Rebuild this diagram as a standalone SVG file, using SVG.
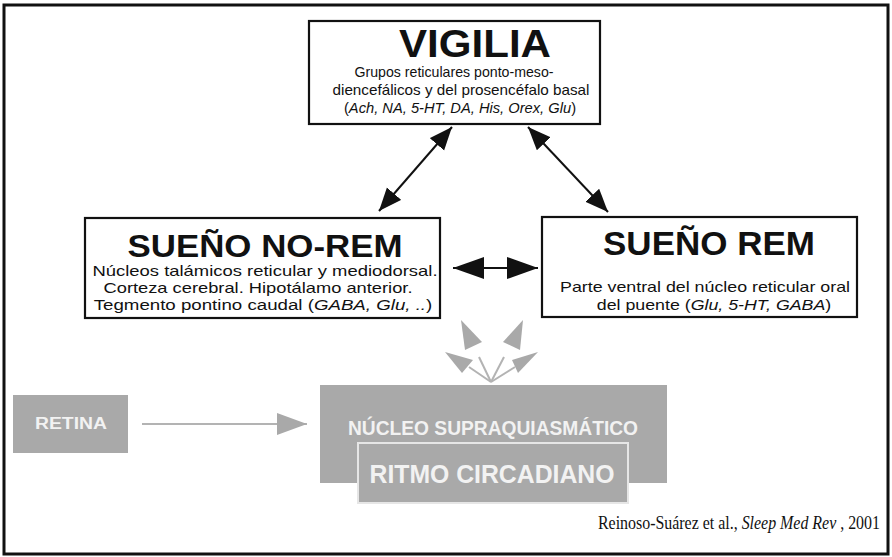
<svg xmlns="http://www.w3.org/2000/svg" width="892" height="557" viewBox="0 0 892 557">
<defs>
<style>
.box{fill:#fff;stroke:#111;stroke-width:2.2}
.t{font-family:"Liberation Sans",Arial,sans-serif;fill:#111;text-anchor:middle}
.b{font-weight:bold}
.i{font-style:italic}
.g{fill:#a9a9a9}
.gt{font-family:"Liberation Sans",Arial,sans-serif;font-weight:bold;fill:#f2f2f2;text-anchor:middle}
.conn{stroke:#111;stroke-width:2;fill:none}
.gl{stroke:#b3b3b3;stroke-width:2;fill:none}
</style>
<marker id="ah" markerUnits="userSpaceOnUse" markerWidth="30" markerHeight="24" refX="23" refY="9.5" orient="auto-start-reverse">
<path d="M0,0 L23,9.5 L0,19 Z" fill="#111"/>
</marker>
<marker id="ahb" markerUnits="userSpaceOnUse" markerWidth="34" markerHeight="26" refX="31" refY="11" orient="auto-start-reverse">
<path d="M0,0 L31,11 L0,22 Z" fill="#111"/>
</marker>
<marker id="ahg" markerUnits="userSpaceOnUse" markerWidth="34" markerHeight="26" refX="30" refY="11" orient="auto">
<path d="M0,0 L30,11 L0,22 Z" fill="#a9a9a9"/>
</marker>
</defs>
<rect x="4" y="5" width="884" height="549" fill="#fff" stroke="#111" stroke-width="3"/>

<g id="connectors">
<line class="conn" x1="452" y1="127" x2="379" y2="211" marker-start="url(#ah)" marker-end="url(#ah)"/>
<line class="conn" x1="528" y1="127" x2="608" y2="212" marker-start="url(#ah)" marker-end="url(#ah)"/>
<line class="conn" x1="453" y1="268" x2="538" y2="268" marker-start="url(#ahb)" marker-end="url(#ahb)"/>
<line class="gl" x1="142" y1="424" x2="307" y2="424" marker-end="url(#ahg)"/>
<g id="fan">
<g class="g">
<polygon points="461,320 465,350 482,342"/>
<polygon points="523,320 503,342 520,350"/>
<polygon points="445,352 462,373 473,360"/>
<polygon points="538,352 512,360 518,373"/>
</g>
<g class="gl" stroke-width="1.5">
<line x1="491" y1="382" x2="479" y2="357"/>
<line x1="491" y1="382" x2="504" y2="357"/>
<line x1="491" y1="382" x2="469" y2="367"/>
<line x1="491" y1="382" x2="515" y2="367"/>
</g>
</g>
</g>

<g id="vigilia">
<rect class="box" x="309" y="21" width="291" height="103"/>
<text class="t b" x="475" y="57" font-size="38" textLength="152" lengthAdjust="spacingAndGlyphs">VIGILIA</text>
<text class="t" x="454" y="77" font-size="15" textLength="199" lengthAdjust="spacingAndGlyphs">Grupos reticulares ponto-meso-</text>
<text class="t" x="461" y="95" font-size="15" textLength="257" lengthAdjust="spacingAndGlyphs">diencefálicos y del prosencéfalo basal</text>
<text class="t" x="460" y="113" font-size="14.7">(<tspan class="i">Ach, NA, 5-HT, DA, His, Orex, Glu</tspan>)</text>
</g>

<g id="noREM">
<rect class="box" x="85" y="218" width="355" height="100"/>
<text class="t b" x="265" y="257" font-size="32" textLength="275" lengthAdjust="spacingAndGlyphs">SUEÑO NO-REM</text>
<text class="t" x="265" y="276" font-size="14.5" textLength="345" lengthAdjust="spacingAndGlyphs">Núcleos talámicos reticular y mediodorsal.</text>
<text class="t" x="258" y="293" font-size="14.5" textLength="309" lengthAdjust="spacingAndGlyphs">Corteza cerebral. Hipotálamo anterior.</text>
<text class="t" transform="translate(263,310) scale(1.29,1)" font-size="14.5">Tegmento pontino caudal (<tspan class="i">GABA, Glu, ..</tspan>)</text>
</g>

<g id="REM">
<rect class="box" x="542" y="217" width="315" height="100"/>
<text class="t b" x="709" y="255" font-size="34" textLength="212" lengthAdjust="spacingAndGlyphs">SUEÑO REM</text>
<text class="t" x="705" y="292" font-size="15" textLength="290" lengthAdjust="spacingAndGlyphs">Parte ventral del núcleo reticular oral</text>
<text class="t" transform="translate(714,310) scale(1.186,1)" font-size="15">del puente (<tspan class="i">Glu, 5-HT, GABA</tspan>)</text>
</g>

<g id="retina">
<rect class="g" x="13" y="395" width="115" height="58"/>
<text class="gt" x="71" y="429" font-size="16" textLength="72" lengthAdjust="spacingAndGlyphs">RETINA</text>
</g>

<g id="nucleo">
<rect class="g" x="320" y="385" width="347" height="98"/>
<text class="gt" x="493" y="435" font-size="20" textLength="290" lengthAdjust="spacingAndGlyphs">NÚCLEO SUPRAQUIASMÁTICO</text>
</g>

<g id="ritmo">
<rect class="g" x="358" y="443" width="270" height="60" stroke="#e6e6e6" stroke-width="2"/>
<text class="gt" x="492" y="483" font-size="25" textLength="245" lengthAdjust="spacingAndGlyphs">RITMO CIRCADIANO</text>
</g>

<text transform="translate(880,529) scale(0.885,1)" font-family="'Liberation Serif','Times New Roman',serif" font-size="18" fill="#111" text-anchor="end">Reinoso-Suárez et al., <tspan font-style="italic">Sleep Med Rev</tspan> , 2001</text>
</svg>
